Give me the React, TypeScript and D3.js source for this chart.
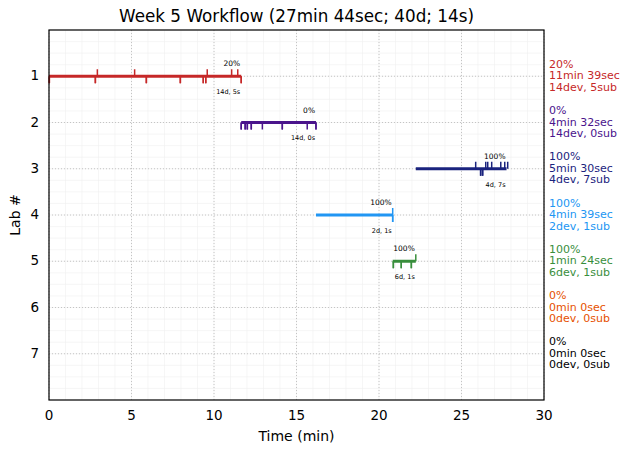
import { useEffect } from "react";
import { scaleLinear, range } from "d3";

// labs in display order (y = lab number)
const labs = [1, 2, 3, 4, 5, 6, 7];
const labColors = ["#c62828", "#4a148c", "#1a237e", "#2196f3", "#388e3c", "#e65100", "#000000"];
const labStart = [0, 11.65, 22.23, 16.18, 20.83, 0, 0];
const labSeconds = [699, 272, 330, 279, 84, 0, 0];
const labPercent = [20, 0, 100, 100, 100, 0, 0];

// event times (min) for deployments (downward ticks) and submissions (upward ticks)
const devTimes = [
	[0.02, 0.02, 2.81, 2.81, 5.9, 5.9, 7.96, 7.96, 9.35, 9.35, 9.5, 9.5, 11.65, 11.65],
	[11.65, 11.65, 11.89, 11.89, 12.02, 12.02, 12.26, 12.26, 12.93, 14.14, 14.14, 15.65, 16.18, 16.18],
	[26.16, 26.16, 26.28, 26.28],
	[20.83, 20.83],
	[20.87, 20.87, 21.35, 21.35, 21.96, 21.96],
	[],
	[],
];
const subTimes = [
	[2.93, 5.19, 9.59, 11.07, 11.44],
	[],
	[25.86, 26.47, 26.59, 26.83, 27.38, 27.62, 27.8],
	[20.83],
	[22.23],
	[],
	[],
];

const xTicks = [0, 5, 10, 15, 20, 25, 30];

const W = 630;
const H = 453;
const margin = { left: 49, right: 86, top: 30, bottom: 53 };
const font = "DejaVu Sans, sans-serif";

function fmtDuration(sec: number): string {
	return `${Math.floor(sec / 60)}min ${sec % 60}sec`;
}

export default function App() {
	useEffect(() => {
		document.body.style.margin = "0";
	}, []);

	const x = scaleLinear().domain([0, 30]).range([margin.left, W - margin.right]);
	const y = scaleLinear().domain([0, 8]).range([margin.top, H - margin.bottom]);
	const [x0, x1] = x.range();
	const [y0, y1] = y.range();

	const totalSec = labSeconds.reduce((a, b) => a + b, 0);
	const totalDev = devTimes.reduce((a, d) => a + d.length, 0);
	const totalSub = subTimes.reduce((a, d) => a + d.length, 0);
	const title = `Week 5 Workflow (${fmtDuration(totalSec)}; ${totalDev}d; ${totalSub}s)`;

	const minorX = range(0, 31, 1);
	const minorY = range(0, 8.01, 0.25);

	return (
		<svg width={W} height={H} style={{ display: "block" }} fontFamily={font}>
			<rect width={W} height={H} fill="#fff" />
			<g>
				{minorX.map((t) => (
					<line key={"mx" + t} x1={x(t)} x2={x(t)} y1={y0} y2={y1} stroke="#f0f0f0" strokeWidth={0.6} />
				))}
				{minorY.map((t) => (
					<line key={"my" + t} x1={x0} x2={x1} y1={y(t)} y2={y(t)} stroke="#f0f0f0" strokeWidth={0.6} />
				))}
				{xTicks.map((t) => (
					<line key={"gx" + t} x1={x(t)} x2={x(t)} y1={y0} y2={y1} stroke="#b8b8b8" strokeWidth={0.8} strokeDasharray="1,2" />
				))}
				{labs.map((l) => (
					<line key={"gy" + l} x1={x0} x2={x1} y1={y(l)} y2={y(l)} stroke="#b8b8b8" strokeWidth={0.8} strokeDasharray="1,2" />
				))}
			</g>
			{labs.map((l, i) => {
				const c = labColors[i];
				const yl = y(l);
				const sec = labSeconds[i];
				const end = labStart[i] + sec / 60;
				return (
					<g key={"lab" + l}>
						{sec > 0 && (
							<g>
								<line x1={x(labStart[i])} x2={x(end)} y1={yl} y2={yl} stroke={c} strokeWidth={3} />
								{devTimes[i].map((t, k) => (
									<line key={"d" + k} x1={x(t)} x2={x(t)} y1={yl} y2={yl + 7} stroke={c} strokeWidth={1.5} />
								))}
								{subTimes[i].map((t, k) => (
									<line key={"s" + k} x1={x(t)} x2={x(t)} y1={yl} y2={yl - 7} stroke={c} strokeWidth={1.5} />
								))}
								<text x={x(end) - 1} y={yl - 12} fontSize={7.5} fontFamily={font} textAnchor="end" dominantBaseline="middle">
									{labPercent[i]}%
								</text>
								<text x={x(end) - 1} y={yl + 16} fontSize={6.5} fontFamily={font} textAnchor="end" dominantBaseline="middle">
									{devTimes[i].length}d, {subTimes[i].length}s
								</text>
							</g>
						)}
						<text x={x1 + 5} fontSize={11} fontFamily={font} fill={c} dominantBaseline="middle">
							<tspan x={x1 + 5} y={yl - 11.5}>{labPercent[i]}%</tspan>
							<tspan x={x1 + 5} y={yl}>{fmtDuration(sec)}</tspan>
							<tspan x={x1 + 5} y={yl + 11.5}>{devTimes[i].length}dev, {subTimes[i].length}sub</tspan>
						</text>
					</g>
				);
			})}
			<rect x={x0} y={y0} width={x1 - x0} height={y1 - y0} fill="none" stroke="#000" strokeWidth={1.2} />
			{xTicks.map((t) => (
				<text key={"xt" + t} x={x(t)} y={y1 + 16} fontSize={13.5} textAnchor="middle" dominantBaseline="middle">
					{t}
				</text>
			))}
			{labs.map((l) => (
				<text key={"yt" + l} x={x0 - 10} y={y(l)} fontSize={13.5} textAnchor="end" dominantBaseline="middle">
					{l}
				</text>
			))}
			<text x={(x0 + x1) / 2} y={437} fontSize={14} textAnchor="middle" dominantBaseline="middle">
				Time (min)
			</text>
			<text transform={`translate(16,${(y0 + y1) / 2}) rotate(-90)`} fontSize={14} textAnchor="middle" dominantBaseline="middle">
				Lab #
			</text>
			<text x={(x0 + x1) / 2} y={17} fontSize={16.8} textAnchor="middle" dominantBaseline="middle">
				{title}
			</text>
		</svg>
	);
}
